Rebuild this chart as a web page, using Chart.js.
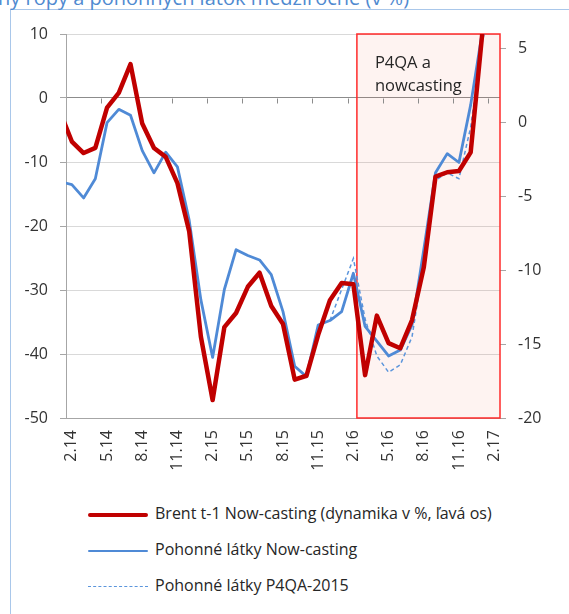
<!DOCTYPE html>
<html>
<head>
<meta charset="utf-8">
<script src="https://cdn.jsdelivr.net/npm/chart.js@4.4.1/dist/chart.umd.min.js"></script>
<style>
  html, body { margin: 0; padding: 0; background: #fff; }
  body { width: 569px; height: 614px; position: relative; overflow: hidden; font-family: 'Open Sans', sans-serif; }
  #frame { position: absolute; left: 10px; top: 9px; width: 700px; height: 700px; border-left: 1px solid #a9c7ea; border-top: 1px solid #a9c7ea; }
  #title { position: absolute; left: -2px; top: -14px; font-size: 20px; line-height: 24px; color: #4f8ad0; white-space: nowrap; }
  #wrap { position: absolute; left: 0; top: 0; }
  #legend { position: absolute; left: 88px; top: 495px; font-size: 16px; color: #262626; }
  .row { height: 36px; line-height: 36px; white-space: nowrap; }
  .sw { display: inline-block; width: 60px; vertical-align: middle; margin-right: 7px; }
</style>
</head>
<body>
<div id="frame"></div>
<div id="title">ny ropy a pohonných látok medziročne (v %)</div>
<div id="wrap"><canvas id="c" width="569" height="480"></canvas></div>
<div id="legend"></div>
<script>
// months 1.14 .. 2.17 (1.14 sits just left of the plot and is clipped)
const months = ['1.14','2.14','3.14','4.14','5.14','6.14','7.14','8.14','9.14','10.14','11.14','12.14',
  '1.15','2.15','3.15','4.15','5.15','6.15','7.15','8.15','9.15','10.15','11.15','12.15',
  '1.16','2.16','3.16','4.16','5.16','6.16','7.16','8.16','9.16','10.16','11.16','12.16',
  '1.17','2.17'];

const tickLabels = ['2.14','5.14','8.14','11.14','2.15','5.15','8.15','11.15','2.16','5.16','8.16','11.16','2.17'];
const rightTicks = [-20, -15, -10, -5, 0, 5];

// Brent t-1, left axis
const brent = [-2.2, -6.8, -8.6, -7.8, -1.5, 0.8, 5.3, -4.0, -7.8, -9.2, -13.3, -20.8,
  -37.3, -47.2, -35.8, -33.6, -29.5, -27.3, -32.5, -35.3, -44.0, -43.4, -37.0, -31.6,
  -28.9, -29.1, -43.3, -34.0, -38.3, -39.1, -34.7, -26.5, -12.3, -11.6, -11.4, -8.5,
  10.3, null];

// fuels now-casting, right axis
const fuelNow = [-4.0, -4.2, -5.1, -3.8, 0.0, 0.9, 0.5, -1.9, -3.4, -2.0, -3.0, -6.6,
  -12.0, -15.9, -11.3, -8.6, -9.0, -9.3, -10.3, -12.8, -16.5, -17.2, -13.7, -13.4,
  -12.8, -10.2, -13.8, -14.8, -15.8, -15.4, -13.7, -8.6, -3.4, -2.1, -2.7, 1.2,
  6.2, null];

// fuels P4QA-2015, right axis
const fuelP4qa = [null, null, null, null, null, null, null, null, null, null, null, null,
  null, null, null, null, null, null, null, null, null, null, null, -13.4,
  -11.3, -9.2, -13.3, -15.8, -16.9, -16.4, -14.5, -9.5, -3.9, -3.4, -3.8, -0.3,
  5.5, 9.0];

const boxFrom = 24.3;

function pts(arr) {
  return months.map((m, i) => ({ x: i - 1, y: arr[i] }));
}

Chart.defaults.font.family = "'Open Sans', sans-serif";
Chart.defaults.font.size = 16;
Chart.defaults.color = '#333';

const nowcastBox = {
  id: 'nowcastBox',
  beforeDatasetsDraw(chart) {
    const { ctx, chartArea: a, scales: { x, y } } = chart;
    const left = x.getPixelForValue(boxFrom);
    ctx.save();
    ctx.fillStyle = 'rgba(240, 80, 60, 0.07)';
    ctx.fillRect(left, a.top, a.right - left, a.bottom - a.top);

    // tick marks of the category axis, sitting on the zero line
    const y0 = Math.round(y.getPixelForValue(0)) + 0.5;
    ctx.strokeStyle = '#8c8c8c';
    ctx.lineWidth = 1;
    ctx.beginPath();
    for (let k = 2.5; k < 36.5; k += 3) {
      const px = Math.round(x.getPixelForValue(k)) + 0.5;
      ctx.moveTo(px, y0);
      ctx.lineTo(px, y0 + 5);
    }
    ctx.stroke();

    ctx.strokeStyle = '#ff2a2a';
    ctx.lineWidth = 1.5;
    ctx.strokeRect(left, a.top, a.right - left, a.bottom - a.top);

    ctx.fillStyle = '#262626';
    ctx.font = "16.5px 'Open Sans'";
    ctx.fillText('P4QA a', left + 18, a.top + 34);
    ctx.fillText('nowcasting', left + 18, a.top + 57);
    ctx.restore();
  }
};

const chart = new Chart(document.getElementById('c'), {
  type: 'line',
  data: {
    datasets: [
      {
        label: 'Brent t-1 Now-casting (dynamika v %, ľavá os)',
        data: pts(brent),
        yAxisID: 'y',
        borderColor: '#c00000',
        borderWidth: 4.5,
        borderJoinStyle: 'round',
        pointRadius: 0,
        clip: 0
      },
      {
        label: 'Pohonné látky Now-casting',
        data: pts(fuelNow),
        yAxisID: 'y1',
        borderColor: '#4f8ad6',
        borderWidth: 2.8,
        borderJoinStyle: 'round',
        pointRadius: 0,
        clip: 0
      },
      {
        label: 'Pohonné látky P4QA-2015',
        data: pts(fuelP4qa),
        yAxisID: 'y1',
        borderColor: '#5b95dc',
        borderWidth: 1.5,
        borderDash: [4, 3],
        pointRadius: 0,
        clip: 0
      }
    ]
  },
  options: {
    responsive: false,
    animation: false,
    layout: { padding: { top: 34, left: 0, right: 0, bottom: 0 } },
    plugins: {
      legend: { display: false },
      tooltip: { enabled: false }
    },
    scales: {
      x: {
        type: 'linear',
        min: -0.5,
        max: 36.5,
        afterBuildTicks: (axis) => { axis.ticks = tickLabels.map((t, k) => ({ value: k * 3 })); },
        afterFit: (axis) => { axis.height = 62; },
        ticks: {
          autoSkip: false,
          minRotation: 90,
          maxRotation: 90,
          padding: 12,
          callback: (v) => tickLabels[v / 3]
        },
        grid: { display: false, drawTicks: false },
        border: { display: true, color: '#a6a6a6' }
      },
      y: {
        position: 'left',
        min: -50,
        max: 10,
        afterFit: (axis) => { axis.width = 66; },
        ticks: { stepSize: 10, padding: 12 },
        grid: {
          color: (c) => c.tick && c.tick.value === 0 ? '#8c8c8c' : '#d9d9d9',
          tickColor: '#a6a6a6',
          tickLength: 6
        },
        border: { display: true, color: '#a6a6a6' }
      },
      y1: {
        position: 'right',
        min: -20,
        max: 6,
        afterBuildTicks: (axis) => { axis.ticks = rightTicks.map(v => ({ value: v })); },
        afterFit: (axis) => { axis.width = 69; },
        ticks: { padding: 12 },
        grid: { drawOnChartArea: false, tickColor: '#a6a6a6', tickLength: 6 },
        border: { display: false }
      }
    }
  },
  plugins: [nowcastBox]
});

// legend as plain text rows under the chart
const legend = document.getElementById('legend');
chart.data.datasets.forEach(ds => {
  const row = document.createElement('div');
  row.className = 'row';
  const sw = document.createElement('span');
  sw.className = 'sw';
  sw.style.borderTop = ds.borderWidth + 'px ' + (ds.borderDash ? 'dashed ' : 'solid ') + ds.borderColor;
  if (!ds.borderDash) sw.style.borderRadius = '2px';
  row.appendChild(sw);
  row.appendChild(document.createTextNode(ds.label));
  legend.appendChild(row);
});
</script>
</body>
</html>
